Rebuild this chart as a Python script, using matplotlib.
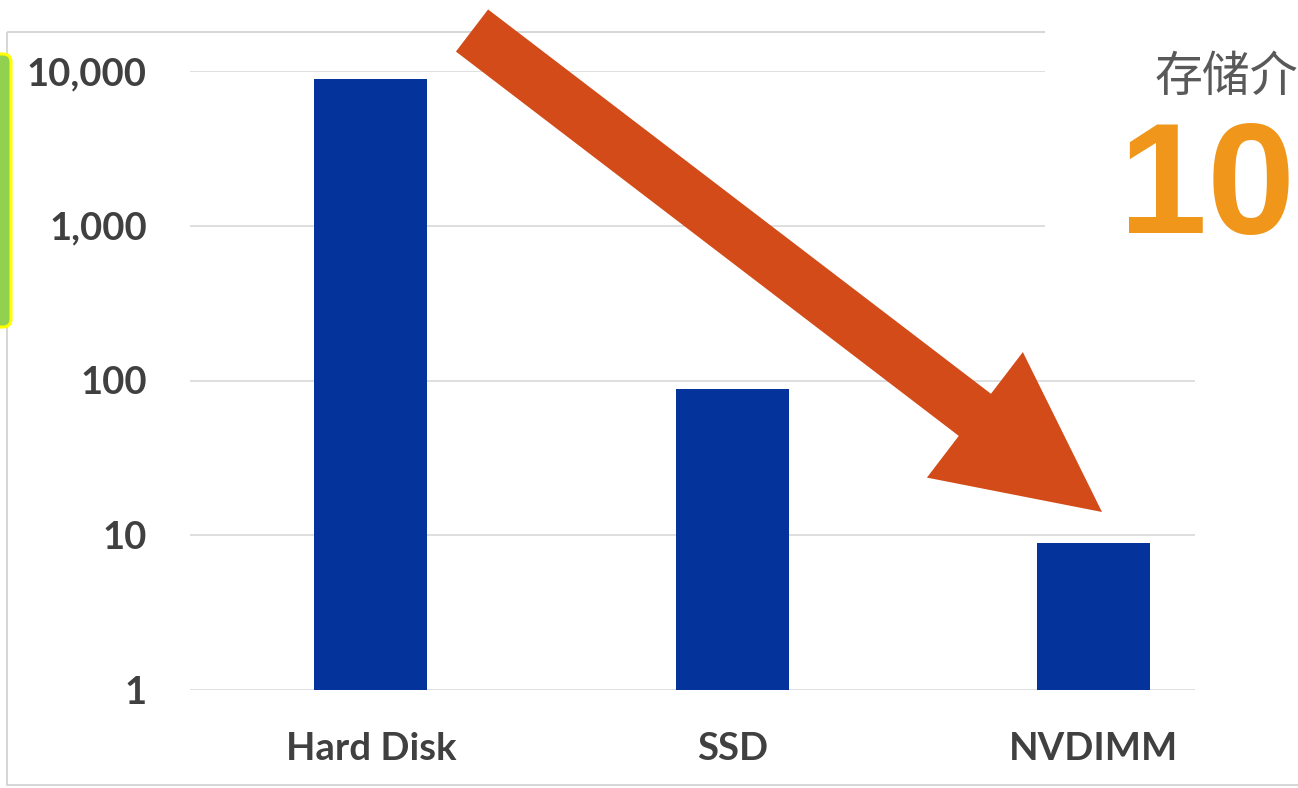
import matplotlib
matplotlib.use("Agg")
import matplotlib.pyplot as plt
import matplotlib.patches as mpatches
from matplotlib.transforms import Affine2D

# data (log scale)
categories = ["Hard Disk", "SSD", "NVDIMM"]
latency = [8900, 88, 8.9]
ytick_values = [1, 10, 100, 1000, 10000]
ytick_labels = ["1", "10", "100", "1,000", "10,000"]

W, H = 1298, 788
fig = plt.figure(figsize=(W / 100, H / 100), dpi=100)
fig.patch.set_facecolor("white")

# image-pixel transform (origin top-left) for the decorations
px = Affine2D().scale(1 / W, -1 / H).translate(0, 1) + fig.transFigure

ax = fig.add_axes([190 / W, 1 - 690 / H, (1195 - 190) / W, (690 - 71) / H])
ax.set_yscale("log")
ax.set_ylim(1, 10000)
ax.set_xlim(-0.5, 2.28)

xs = list(range(len(categories)))
ax.bar(xs, latency, width=0.312, color="#05339C", zorder=2)

for v in ytick_values:
    ax.axhline(v, color="#D9D9D9", lw=1.2, zorder=1)

ax.set_yticks(ytick_values)
ax.set_yticklabels(ytick_labels)
ax.minorticks_off()
ax.set_xticks(xs)
ax.set_xticklabels(categories)
ax.tick_params(axis="both", length=0, colors="#404040")
ax.tick_params(axis="y", pad=31)
ax.tick_params(axis="x", pad=30)
for lab in ax.get_yticklabels() + ax.get_xticklabels():
    lab.set_fontfamily("Lato")
    lab.set_fontweight("bold")
    lab.set_fontsize(27.5)
    lab.set_color("#404040")
for s in ax.spines.values():
    s.set_visible(False)

# light frame round the chart
fig.patches.append(mpatches.Rectangle((7, 32), 1400, 753, transform=px,
                                      fill=False, edgecolor="#CFCFCF", lw=1.2))

# green box on the left edge
fig.patches.append(mpatches.FancyBboxPatch((-20, 54), 31, 273, transform=px,
                                           boxstyle="round,pad=0,rounding_size=8",
                                           facecolor="#92D050", edgecolor="#FFFF00", lw=2.2))

# white panel top right with the headline text
fig.patches.append(mpatches.Rectangle((1045, 20), 260, 235, transform=px,
                                      facecolor="white", edgecolor="none"))
fig.text(1154 / W, 1 - 91 / H, "存储介", fontsize=34.5, color="#595959",
         family=["Noto Sans CJK SC", "DejaVu Sans"], ha="left", va="baseline")
fig.text(1119 / W, 1 - 233 / H, "10", fontsize=114, color="#F0961A",
         family="Liberation Sans", fontweight="bold", ha="left", va="baseline")

# big arrow
tail = (472, 30.5)
tip = (1102, 512)
fig.patches.append(mpatches.FancyArrow(tail[0], tail[1], tip[0] - tail[0], tip[1] - tail[1],
                                       width=53, head_width=158, head_length=160,
                                       length_includes_head=True, transform=px,
                                       facecolor="#D24B18", edgecolor="none"))

fig.savefig("out.png", dpi=100)
